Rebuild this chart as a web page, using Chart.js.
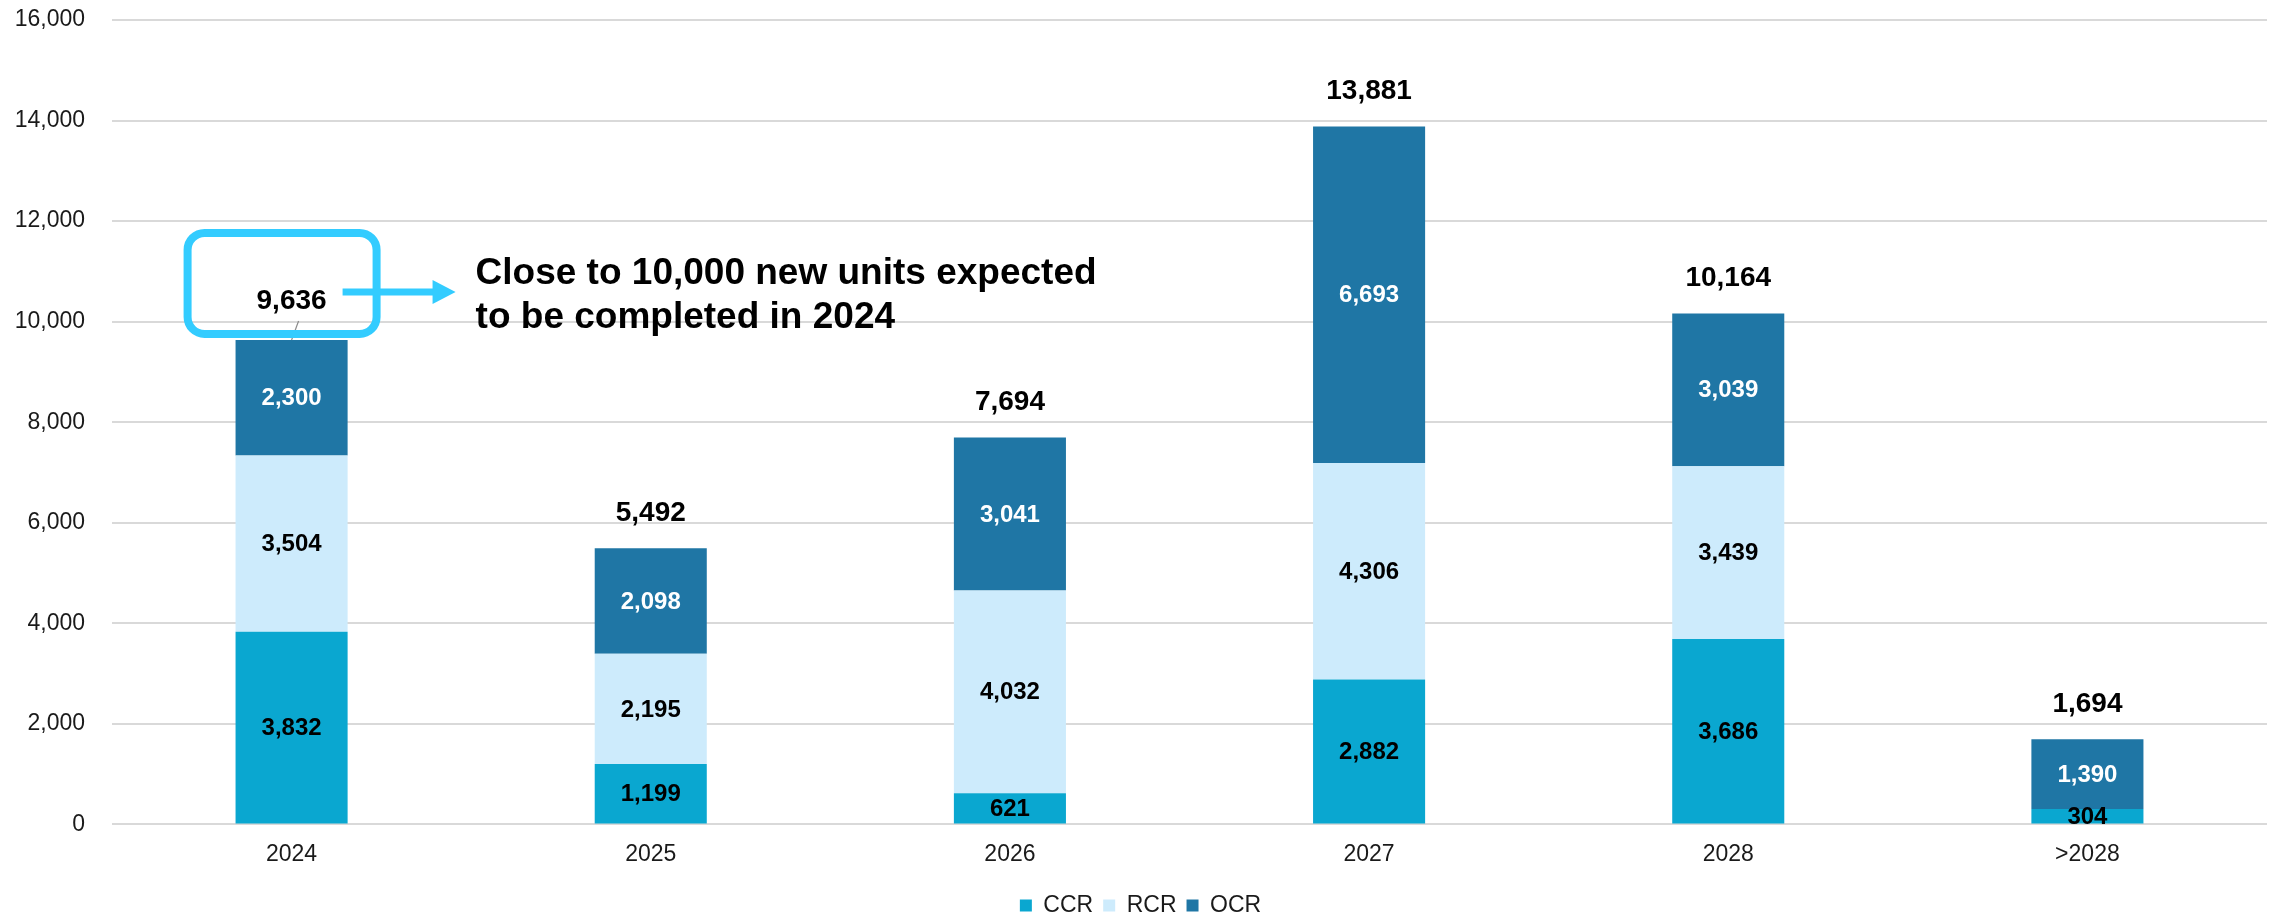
<!DOCTYPE html>
<html>
<head>
<meta charset="utf-8">
<style>
  html, body { margin: 0; padding: 0; background: #fff; }
  #wrap { width: 2277px; height: 914px; position: relative; }
</style>
<script src="https://cdn.jsdelivr.net/npm/chart.js@4/dist/chart.umd.min.js"></script>
</head>
<body>
<div id="wrap"><canvas id="supplyChart"></canvas></div>
<script>
// pipeline of new private units by year of completion, split by region
const years = ["2024", "2025", "2026", "2027", "2028", ">2028"];
const ccrUnits = [3832, 1199, 621, 2882, 3686, 304];
const rcrUnits = [3504, 2195, 4032, 4306, 3439, 0];
const ocrUnits = [2300, 2098, 3041, 6693, 3039, 1390];
const totalUnits = [9636, 5492, 7694, 13881, 10164, 1694];

const yTicks = [0, 2000, 4000, 6000, 8000, 10000, 12000, 14000, 16000];

const calloutLines = ["Close to 10,000 new units expected", "to be completed in 2024"];

const FONT = "'Liberation Sans', Arial, sans-serif";
const fmt = v => Number(v).toLocaleString("en-US");

// numbers inside each segment + stacked totals on top
const valueLabels = {
  id: "valueLabels",
  afterDatasetsDraw(chart) {
    const ctx = chart.ctx;
    const y = chart.scales.y;
    const x = chart.scales.x;
    ctx.save();
    ctx.textAlign = "center";
    ctx.textBaseline = "middle";
    ctx.font = `bold 24px ${FONT}`;

    chart.data.datasets.forEach((ds, di) => {
      const meta = chart.getDatasetMeta(di);
      meta.data.forEach((bar, i) => {
        const v = ds.data[i];
        if (!v) return;
        ctx.fillStyle = di === 2 ? "#ffffff" : "#000000";
        ctx.fillText(fmt(v), bar.x, (bar.y + bar.base) / 2 + 1);
      });
    });

    ctx.font = `bold 28px ${FONT}`;
    ctx.fillStyle = "#000000";
    totalUnits.forEach((t, i) => {
      const cx = x.getPixelForValue(i);
      const top = y.getPixelForValue(t);
      // first total sits a little higher, tied back to its bar
      const lift = i === 0 ? 39 : 35;
      ctx.fillText(fmt(t), cx, top - lift);
      if (i === 0) {
        ctx.strokeStyle = "#8c8c8c";
        ctx.lineWidth = 1.2;
        ctx.beginPath();
        ctx.moveTo(cx + 7, top - 19);
        ctx.lineTo(cx, top);
        ctx.stroke();
      }
    });
    ctx.restore();
  }
};

// rounded box round the 2024 total, arrow and note
const callout = {
  id: "callout",
  afterDraw(chart) {
    const ctx = chart.ctx;
    const cx = chart.scales.x.getPixelForValue(0);
    const top = chart.scales.y.getPixelForValue(totalUnits[0]);
    const cyan = "#33ccff";

    ctx.save();
    ctx.strokeStyle = cyan;
    ctx.lineWidth = 8;
    ctx.beginPath();
    ctx.roundRect(cx - 104, top - 107, 189, 101, 17);
    ctx.stroke();

    const ay = top - 48;
    ctx.lineWidth = 7;
    ctx.beginPath();
    ctx.moveTo(cx + 51, ay);
    ctx.lineTo(cx + 143, ay);
    ctx.stroke();
    ctx.fillStyle = cyan;
    ctx.beginPath();
    ctx.moveTo(cx + 141, ay - 12);
    ctx.lineTo(cx + 164, ay);
    ctx.lineTo(cx + 141, ay + 12);
    ctx.closePath();
    ctx.fill();

    ctx.fillStyle = "#000000";
    ctx.font = `bold 37px ${FONT}`;
    ctx.textAlign = "left";
    ctx.textBaseline = "alphabetic";
    ctx.fillText(calloutLines[0], cx + 184, top - 56);
    ctx.fillText(calloutLines[1], cx + 184, top - 12);
    ctx.restore();
  }
};

const ctx = document.getElementById("supplyChart");

new Chart(ctx, {
  type: "bar",
  data: {
    labels: years,
    datasets: [
      { label: "CCR", data: ccrUnits, backgroundColor: "#0aa7d0" },
      { label: "RCR", data: rcrUnits, backgroundColor: "#cdebfc" },
      { label: "OCR", data: ocrUnits, backgroundColor: "#1f76a5" }
    ]
  },
  options: {
    responsive: true,
    maintainAspectRatio: false,
    animation: false,
    layout: { padding: { left: 14, right: 10, top: 20, bottom: -13 } },
    datasets: {
      bar: { categoryPercentage: 1, barPercentage: 0.312, borderWidth: 0 }
    },
    plugins: {
      legend: {
        position: "bottom",
        labels: {
          font: { family: FONT, size: 23 },
          color: "#1a1a1a",
          boxWidth: 12,
          boxHeight: 12,
          padding: 10
        }
      },
      tooltip: { enabled: false }
    },
    scales: {
      x: {
        stacked: true,
        grid: { display: false, drawTicks: false },
        border: { display: false },
        ticks: { font: { family: FONT, size: 23 }, color: "#1a1a1a", padding: 16 }
      },
      y: {
        stacked: true,
        min: 0,
        max: 16000,
        afterBuildTicks: axis => { axis.ticks = yTicks.map(v => ({ value: v })); },
        afterFit: axis => {
          axis.width = 98;
          // tick padding otherwise also pushes the plot down from the top
          axis.paddingTop = 0;
          axis.paddingBottom = 0;
        },
        grid: { color: "#d9d9d9", lineWidth: 2, drawTicks: false },
        border: { display: false },
        ticks: {
          font: { family: FONT, size: 23 },
          color: "#1a1a1a",
          padding: 27,
          callback: v => fmt(v)
        }
      }
    }
  },
  plugins: [valueLabels, callout]
});
</script>
</body>
</html>
